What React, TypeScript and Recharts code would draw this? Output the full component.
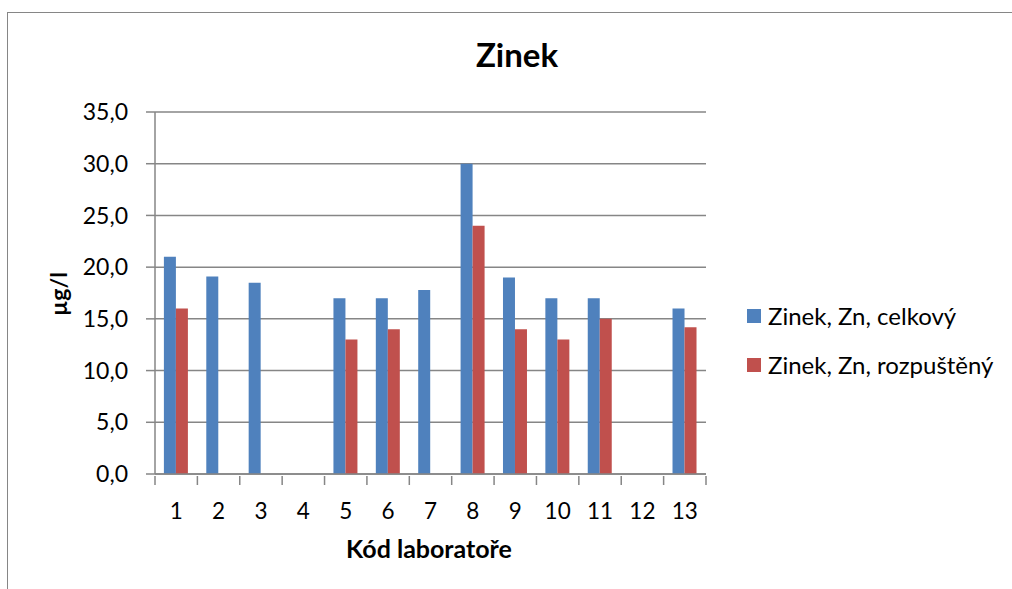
import { BarChart, Bar, XAxis, YAxis, CartesianGrid, Legend } from 'recharts';

const LABS = ['1', '2', '3', '4', '5', '6', '7', '8', '9', '10', '11', '12', '13'];
const CELKOVY = [21.0, 19.1, 18.5, null, 17.0, 17.0, 17.8, 30.0, 19.0, 17.0, 17.0, null, 16.0];
const ROZPUSTENY = [16.0, null, null, null, 13.0, 14.0, null, 24.0, 14.0, 13.0, 15.0, null, 14.2];
const Y_TICKS = [0, 5, 10, 15, 20, 25, 30, 35];

const W = 1012;
const H = 589;
const PLOT = { left: 155, right: 706, top: 112, bottom: 474 };
const BAND = (PLOT.right - PLOT.left) / LABS.length;
const AXIS = '#868686';
const FONT = 'Lato, "Open Sans", sans-serif';

const data = LABS.map((lab, i) => ({ lab, celk: CELKOVY[i], rozp: ROZPUSTENY[i] }));

function XTick(props: any) {
  const { x, y, payload, index } = props;
  const half = BAND / 2;
  return (
    <g>
      <line x1={x - half} x2={x - half} y1={y} y2={y + 9} stroke={AXIS} strokeWidth={1.5} />
      {index === LABS.length - 1 && (
        <line x1={x + half} x2={x + half} y1={y} y2={y + 9} stroke={AXIS} strokeWidth={1.5} />
      )}
      <text x={x} y={y + 43} textAnchor="middle" fontSize={22.5} fill="#000">
        {payload.value}
      </text>
    </g>
  );
}

function LegendBox({ payload }: any) {
  return (
    <div>
      {(payload ?? []).map((p: any) => (
        <div key={p.value} style={{ display: 'flex', alignItems: 'center', height: 49 }}>
          <span style={{ width: 14, height: 14, background: p.color, marginRight: 7, display: 'inline-block' }} />
          <span style={{ fontSize: 24, color: '#000', whiteSpace: 'nowrap' }}>{p.value}</span>
        </div>
      ))}
    </div>
  );
}

export default function App() {
  return (
    <div style={{ position: 'fixed', left: 0, top: 0, width: W, height: H, overflow: 'hidden', background: '#fff', fontFamily: FONT }}>
      {/* frame of the chart object, its right and bottom edges fall outside the picture */}
      <div
        style={{
          position: 'absolute',
          left: 7,
          top: 12,
          width: W + 20,
          height: H + 20,
          borderTop: `1.5px solid ${AXIS}`,
          borderLeft: `1.5px solid ${AXIS}`,
        }}
      />
      <div style={{ position: 'absolute', left: 0, top: 0 }}>
        <BarChart
          width={W}
          height={H}
          data={data}
          margin={{ top: PLOT.top, right: W - PLOT.right, bottom: H - PLOT.bottom - 40, left: 0 }}
          barCategoryGap="21%"
          barGap={0}
        >
          <CartesianGrid vertical={false} stroke={AXIS} strokeWidth={1.5} />
          <XAxis
            dataKey="lab"
            height={40}
            tickSize={0}
            tickLine={false}
            axisLine={{ stroke: AXIS, strokeWidth: 1.5 }}
            tick={<XTick />}
            interval={0}
          />
          <YAxis
            width={PLOT.left}
            domain={[0, 35]}
            ticks={Y_TICKS}
            tickSize={9}
            tickMargin={18}
            interval={0}
            tickFormatter={(v: number) => v.toFixed(1).replace('.', ',')}
            tick={{ fontSize: 23, fill: '#000' }}
            tickLine={{ stroke: AXIS, strokeWidth: 1.5 }}
            axisLine={{ stroke: AXIS, strokeWidth: 1.5 }}
          />
          <Legend
            layout="vertical"
            align="center"
            verticalAlign="middle"
            content={<LegendBox />}
            wrapperStyle={{ left: 747, top: 291, width: 262, height: 98 }}
          />
          <Bar dataKey="celk" name="Zinek, Zn, celkový" fill="#4F81BD" isAnimationActive={false} />
          <Bar dataKey="rozp" name="Zinek, Zn, rozpuštěný" fill="#C0504D" isAnimationActive={false} />
        </BarChart>
      </div>
      <svg width={W} height={H} style={{ position: 'absolute', left: 0, top: 0, pointerEvents: 'none' }}>
        <text x={517} y={67} textAnchor="middle" fontSize={33} fontWeight="bold" fill="#000">
          Zinek
        </text>
        <text x={429} y={558} textAnchor="middle" fontSize={25} fontWeight="bold" fill="#000">
          Kód laboratoře
        </text>
        <text x={67} y={294} textAnchor="middle" fontSize={23} fontWeight="bold" fill="#000" transform="rotate(-90 67 294)">
          µg/l
        </text>
      </svg>
    </div>
  );
}
